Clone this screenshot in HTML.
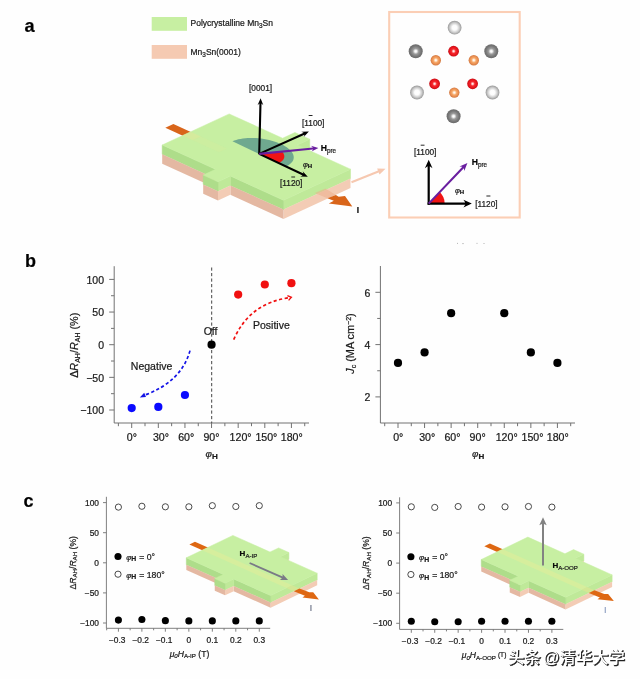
<!DOCTYPE html>
<html><head><meta charset="utf-8"><title>Figure</title>
<style>
html,body{margin:0;padding:0;background:#fefefe;}
body{width:640px;height:679px;overflow:hidden;}
svg{display:block;font-family:"Liberation Sans","Noto Sans CJK SC",sans-serif;fill:#1a1a1a;}
text{stroke:#1a1a1a;stroke-width:0.22px;}
text.ns{stroke:none;}
text.wm{stroke:#222;stroke-width:0.5px;}
</style></head><body>
<svg width="640" height="679" viewBox="0 0 640 679">
<defs>
<radialGradient id="gLg" cx="50%" cy="50%" r="50%"><stop offset="0" stop-color="#ffffff"/><stop offset="0.35" stop-color="#fcfcfc"/><stop offset="0.7" stop-color="#cdcdcd"/><stop offset="1" stop-color="#989898"/></radialGradient>
<radialGradient id="gDg" cx="50%" cy="50%" r="50%"><stop offset="0" stop-color="#ffffff"/><stop offset="0.15" stop-color="#f4f4f4"/><stop offset="0.42" stop-color="#999999"/><stop offset="0.75" stop-color="#787878"/><stop offset="1" stop-color="#6a6a6a"/></radialGradient>
<radialGradient id="gRd" cx="50%" cy="50%" r="50%"><stop offset="0" stop-color="#ffffff"/><stop offset="0.12" stop-color="#ffd8d8"/><stop offset="0.4" stop-color="#f52a2e"/><stop offset="0.75" stop-color="#e8141c"/><stop offset="1" stop-color="#c21018"/></radialGradient>
<radialGradient id="gOr" cx="50%" cy="50%" r="50%"><stop offset="0" stop-color="#ffffff"/><stop offset="0.15" stop-color="#fff0e0"/><stop offset="0.45" stop-color="#f6a868"/><stop offset="0.75" stop-color="#ea8e50"/><stop offset="1" stop-color="#d07a44"/></radialGradient>
</defs>
<rect x="0" y="0" width="640" height="679" fill="#fefefe"/>

<g id="panel-a">
<text x="24.6" y="31.5" font-size="18.2" font-weight="bold" fill="#000">a</text>
<rect x="151.7" y="17" width="35.3" height="13.8" fill="#c7efa2"/>
<rect x="151.7" y="45" width="35.3" height="13.8" fill="#f5cab2"/>
<text x="190.5" y="26.3" font-size="8.5">Polycrystalline Mn<tspan font-size="6.4" dy="2">3</tspan><tspan dy="-2">Sn</tspan></text>
<text x="190.5" y="55" font-size="8.5">Mn<tspan font-size="6.4" dy="2">3</tspan><tspan dy="-2">Sn(0001)</tspan></text>
<polygon points="165.33,127.74 173.37,124.01 200.66,136.45 192.62,140.18" fill="#d9651a"/>
<polygon points="309.77,139.23 297.37,144.98 297.37,154.28 309.77,148.53" fill="#bfe999" stroke="#bfe999" stroke-width="0.5" stroke-linejoin="round"/>
<polygon points="309.77,148.53 297.37,154.28 297.37,163.68 309.77,157.93" fill="#f3ccb5"/>
<polygon points="283.5,200.3 350.5,169.2 350.5,178.5 283.5,209.6" fill="#bfe999" stroke="#bfe999" stroke-width="0.5" stroke-linejoin="round"/>
<polygon points="283.5,209.6 350.5,178.5 350.5,187.9 283.5,219" fill="#f3ccb5"/>
<polygon points="162.2,145 215.57,169.33 215.57,178.63 162.2,154.3" fill="#aedd8a" stroke="#aedd8a" stroke-width="0.5" stroke-linejoin="round"/>
<polygon points="162.2,154.3 215.57,178.63 215.57,188.03 162.2,163.7" fill="#e4b8a2"/>
<polygon points="230.37,176.08 283.5,200.3 283.5,209.6 230.37,185.38" fill="#aedd8a" stroke="#aedd8a" stroke-width="0.5" stroke-linejoin="round"/>
<polygon points="230.37,185.38 283.5,209.6 283.5,219 230.37,194.78" fill="#e4b8a2"/>
<polygon points="217.98,181.83 230.37,176.08 230.37,185.38 217.98,191.13" fill="#bfe999" stroke="#bfe999" stroke-width="0.5" stroke-linejoin="round"/>
<polygon points="217.98,191.13 230.37,185.38 230.37,194.78 217.98,200.53" fill="#f3ccb5"/>
<polygon points="203.18,175.09 217.98,181.83 217.98,191.13 203.18,184.39" fill="#aedd8a" stroke="#aedd8a" stroke-width="0.5" stroke-linejoin="round"/>
<polygon points="203.18,184.39 217.98,191.13 217.98,200.53 203.18,193.79" fill="#e4b8a2"/>
<polygon points="162.2,145 215.57,169.33 203.18,175.09 217.98,181.83 230.37,176.08 283.5,200.3 350.5,169.2 297.37,144.98 309.77,139.23 294.97,132.48 282.57,138.23 229.2,113.9" fill="#c7efa2" stroke="#c7efa2" stroke-width="0.5" stroke-linejoin="round"/>
<polygon points="182.51,135.57 190.55,131.84 200.86,136.54 192.82,140.27" fill="#d6ea9c" opacity="0.9"/>
<polygon points="192.82,140.27 200.86,136.54 226.94,148.43 218.9,152.16" fill="#d6ea9c" opacity="0.3"/>
<polygon points="314.8,193 325.5,188.6 335.9,194.9 327.4,198.3" fill="#ecae8c" opacity="0.55"/>
<polygon points="327.4,198.3 335.9,194.9 338.7,196.8 345,195.9 352.3,206.4 328.8,203.6 333.8,200.8" fill="#d9651a"/>
<text x="356.8" y="213.2" font-size="8.4" font-weight="bold" fill="#000">I</text>
<polygon points="351.89,183.27 378.74,172.53 379.54,174.53 385.5,168.7 377.16,168.59 377.96,170.58 351.11,181.33" fill="#f6c8b0"/>
<polygon points="259.2,153.9 285.93,166.5 287.56,165.69 289.02,164.8 290.3,163.86 291.38,162.85 292.26,161.78 292.94,160.67 293.42,159.51 293.68,158.32 293.73,157.1 293.56,155.87 293.19,154.62 292.6,153.37 291.81,152.11 290.82,150.88 289.63,149.65 288.26,148.46 286.7,147.3 284.98,146.18 283.1,145.11 281.07,144.09 278.9,143.13 276.62,142.24 274.22,141.42 271.74,140.68 269.17,140.01 266.55,139.44 263.88,138.95 261.18,138.56 258.47,138.26 255.76,138.06 253.08,137.95 250.43,137.94 247.83,138.03 245.31,138.22 242.87,138.51 240.54,138.89 238.31,139.36 236.22,139.93 234.27,140.57 232.47,141.31" fill="#5f9c8c" opacity="0.85"/>
<polygon points="259.2,153.9 278.64,163.06 279.08,162.86 279.5,162.65 279.9,162.43 280.29,162.21 280.66,161.98 281.02,161.74 281.36,161.5 281.68,161.25 281.98,161 282.27,160.74 282.54,160.47 282.79,160.2 283.02,159.93 283.23,159.65 283.43,159.37 283.6,159.08 283.76,158.79 283.9,158.49 284.02,158.19 284.11,157.89 284.19,157.58 284.25,157.27 284.29,156.96 284.31,156.65 284.31,156.33 284.3,156.01 284.26,155.69 284.2,155.37 284.12,155.05 284.03,154.73 283.91,154.4 283.78,154.08 283.62,153.75 283.45,153.43 283.26,153.11 283.04,152.78 282.82,152.46 282.57,152.14 282.3,151.82 282.02,151.5" fill="#f01414"/>
<polygon points="260.25,154.43 261.52,103.47 263.32,105.27 260.6,98.2 257.53,105.13 259.42,103.42 258.15,154.37" fill="#000"/>
<polygon points="259.63,154.86 304.54,134.71 303.7,137.11 308.9,131.6 301.33,131.82 303.68,132.79 258.77,152.94" fill="#000"/>
<polygon points="258.75,154.85 302.6,175.51 300.23,176.44 307.8,176.8 302.7,171.19 303.5,173.61 259.65,152.95" fill="#000"/>
<polygon points="259.3,154.94 313.13,149.58 311.52,151.6 318.4,148 310.95,145.83 312.92,147.49 259.1,152.86" fill="#6a1fa0"/>
<text x="260.6" y="91" font-size="8.3" text-anchor="middle">[0001]</text>
<text x="313.2" y="125.7" font-size="8.3" text-anchor="middle">[1100]</text>
<line x1="308.7" y1="115.5" x2="312.5" y2="115.5" stroke="#1a1a1a" stroke-width="0.95"/>
<text x="291.2" y="185.5" font-size="8.3" text-anchor="middle">[1120]</text>
<line x1="291.3" y1="177.0" x2="295.1" y2="177.0" stroke="#1a1a1a" stroke-width="0.95"/>
<text x="320.8" y="151.2" font-size="8.6" font-weight="bold" fill="#000">H<tspan font-size="6.3" font-weight="normal" dy="1.8" fill="#222">pre</tspan></text>
<text x="303" y="167" font-size="7.4" text-anchor="start" ><tspan font-style="italic">φ</tspan><tspan font-weight="bold" font-size="6.07" dy="1.48">H</tspan></text>
<rect x="389.2" y="12" width="130.5" height="205.5" fill="none" stroke="#fbceb5" stroke-width="2.1"/>
<circle cx="454.6" cy="27.7" r="6.9" fill="url(#gLg)"/>
<circle cx="415.7" cy="51.3" r="7" fill="url(#gDg)"/>
<circle cx="491.3" cy="51.3" r="7" fill="url(#gDg)"/>
<circle cx="417" cy="92.5" r="6.9" fill="url(#gLg)"/>
<circle cx="492.5" cy="92.5" r="6.9" fill="url(#gLg)"/>
<circle cx="453.6" cy="116.3" r="7" fill="url(#gDg)"/>
<circle cx="453.6" cy="51.2" r="5.4" fill="url(#gRd)"/>
<circle cx="435.8" cy="60.2" r="5.2" fill="url(#gOr)"/>
<circle cx="473.8" cy="60.2" r="5.2" fill="url(#gOr)"/>
<circle cx="434.6" cy="83.8" r="5.4" fill="url(#gRd)"/>
<circle cx="472.6" cy="83.8" r="5.4" fill="url(#gRd)"/>
<circle cx="454.3" cy="92.6" r="5.2" fill="url(#gOr)"/>
<path d="M428.7 203.6 L444.7 203.6 A16 16 0 0 0 439.71 191.99 Z" fill="#f01414"/>
<polygon points="429.8,204.7 429.8,166.35 432.5,168.2 428.7,159.8 424.9,168.2 427.6,166.35 427.6,204.7" fill="#000"/>
<polygon points="427.6,204.7 465.25,204.7 463.4,207.4 471.8,203.6 463.4,199.8 465.25,202.5 427.6,202.5" fill="#000"/>
<polygon points="429.46,204.32 463.85,168.24 464.27,171.07 467.4,163 459.49,166.51 462.33,166.79 427.94,202.88" fill="#6a1fa0"/>
<text x="425.2" y="155.4" font-size="8.3" text-anchor="middle">[1100]</text>
<line x1="420.7" y1="145.2" x2="424.5" y2="145.2" stroke="#1a1a1a" stroke-width="0.95"/>
<text x="486.4" y="206.8" font-size="8.3" text-anchor="middle">[1120]</text>
<line x1="486.4" y1="196.0" x2="490.4" y2="196.0" stroke="#1a1a1a" stroke-width="0.95"/>
<text x="471.8" y="165.2" font-size="8.6" font-weight="bold" fill="#000">H<tspan font-size="6.3" font-weight="normal" dy="1.8" fill="#222">pre</tspan></text>
<text x="455" y="192.6" font-size="7.4" text-anchor="start" ><tspan font-style="italic">φ</tspan><tspan font-weight="bold" font-size="6.07" dy="1.48">H</tspan></text>
</g>
<g id="panel-b">
<text x="25" y="266.8" font-size="18" font-weight="bold" fill="#000">b</text>
<path d="M114.2 266.2 V423 H309" fill="none" stroke="#727272" stroke-width="1.0"/>
<path d="M114.2 279.4h-5M114.2 312.05h-5M114.2 344.7h-5M114.2 377.35h-5M114.2 410h-5M114.2 295.72h-3.2M114.2 328.38h-3.2M114.2 361.02h-3.2M114.2 393.68h-3.2M131.7 423v5M158.32 423v5M184.94 423v5M211.56 423v5M238.18 423v5M264.8 423v5M291.42 423v5M118.39 423v3.2M145.01 423v3.2M171.63 423v3.2M198.25 423v3.2M224.87 423v3.2M251.49 423v3.2M278.11 423v3.2M304.73 423v3.2" fill="none" stroke="#727272" stroke-width="1.0"/>
<text x="104" y="283.6" font-size="10.5" text-anchor="end">100</text>
<text x="104" y="316.25" font-size="10.5" text-anchor="end">50</text>
<text x="104" y="348.9" font-size="10.5" text-anchor="end">0</text>
<text x="104" y="381.55" font-size="10.5" text-anchor="end">−50</text>
<text x="104" y="414.2" font-size="10.5" text-anchor="end">−100</text>
<text x="131.9" y="441.1" font-size="10.6" text-anchor="middle">0°</text>
<text x="160.92" y="441.1" font-size="10.6" text-anchor="middle">30°</text>
<text x="186.24" y="441.1" font-size="10.6" text-anchor="middle">60°</text>
<text x="211.46" y="441.1" font-size="10.6" text-anchor="middle">90°</text>
<text x="240.58" y="441.1" font-size="10.6" text-anchor="middle">120°</text>
<text x="266.4" y="441.1" font-size="10.6" text-anchor="middle">150°</text>
<text x="291.72" y="441.1" font-size="10.6" text-anchor="middle">180°</text>
<text x="205.5" y="456.8" font-size="9.8" text-anchor="start" ><tspan font-style="italic">φ</tspan><tspan font-weight="bold" font-size="8.04" dy="1.96">H</tspan></text>
<text transform="translate(78.3,345.3) rotate(-90)" font-size="10.8" text-anchor="middle">Δ<tspan font-style="italic">R</tspan><tspan font-size="7" dy="2">AH</tspan><tspan dy="-2">/</tspan><tspan font-style="italic">R</tspan><tspan font-size="7" dy="2">AH</tspan><tspan dy="-2"> (%)</tspan></text>
<line x1="211.7" y1="267.5" x2="211.7" y2="423" stroke="#444" stroke-width="1" stroke-dasharray="3.2 2.3"/>
<circle cx="131.7" cy="408.11" r="4.1" fill="#0a0aff"/>
<circle cx="158.32" cy="406.93" r="4.1" fill="#0a0aff"/>
<circle cx="184.94" cy="394.98" r="4.1" fill="#0a0aff"/>
<circle cx="211.56" cy="344.7" r="4.1" fill="#000"/>
<circle cx="238.18" cy="294.61" r="4.1" fill="#f01010"/>
<circle cx="264.8" cy="284.49" r="4.1" fill="#f01010"/>
<circle cx="291.42" cy="283.19" r="4.1" fill="#f01010"/>
<text x="210.6" y="334.6" font-size="10.5" text-anchor="middle">Off</text>
<text x="271.4" y="328.6" font-size="10.5" text-anchor="middle">Positive</text>
<text x="151.6" y="369.6" font-size="10.5" text-anchor="middle">Negative</text>
<path d="M233.7 339.6 Q249.6 303 289.6 297.7" fill="none" stroke="#f01010" stroke-width="1.7" stroke-dasharray="3.2 2.5"/>
<path d="M287.4 295.7 L291.4 297.3 L288.6 300.4" fill="none" stroke="#f01010" stroke-width="1.3"/>
<path d="M190 350.6 Q181.6 381.4 145 395" fill="none" stroke="#1414e6" stroke-width="1.7" stroke-dasharray="3.2 2.4"/>
<polygon points="139.8,397.6 144.2,392.8 146,397" fill="#1414e6"/>
<path d="M380.4 266 V423 H575" fill="none" stroke="#727272" stroke-width="1.0"/>
<path d="M380.4 396.9h-5M380.4 344.6h-5M380.4 292.3h-5M380.4 370.75h-3.2M380.4 318.45h-3.2M398 423v5M424.57 423v5M451.14 423v5M477.71 423v5M504.28 423v5M530.85 423v5M557.42 423v5M384.71 423v3.2M411.29 423v3.2M437.86 423v3.2M464.43 423v3.2M491 423v3.2M517.57 423v3.2M544.13 423v3.2M570.7 423v3.2" fill="none" stroke="#727272" stroke-width="1.0"/>
<text x="370.4" y="401.1" font-size="10.5" text-anchor="end">2</text>
<text x="370.4" y="348.8" font-size="10.5" text-anchor="end">4</text>
<text x="370.4" y="296.5" font-size="10.5" text-anchor="end">6</text>
<text x="398.2" y="441.1" font-size="10.6" text-anchor="middle">0°</text>
<text x="427.17" y="441.1" font-size="10.6" text-anchor="middle">30°</text>
<text x="452.44" y="441.1" font-size="10.6" text-anchor="middle">60°</text>
<text x="477.61" y="441.1" font-size="10.6" text-anchor="middle">90°</text>
<text x="506.68" y="441.1" font-size="10.6" text-anchor="middle">120°</text>
<text x="532.45" y="441.1" font-size="10.6" text-anchor="middle">150°</text>
<text x="557.72" y="441.1" font-size="10.6" text-anchor="middle">180°</text>
<text x="472" y="456.8" font-size="9.8" text-anchor="start" ><tspan font-style="italic">φ</tspan><tspan font-weight="bold" font-size="8.04" dy="1.96">H</tspan></text>
<text transform="translate(354.2,343.5) rotate(-90)" font-size="10.9" text-anchor="middle"><tspan font-style="italic">J</tspan><tspan font-size="7" dy="2">c</tspan><tspan dy="-2"> (MA cm</tspan><tspan font-size="7" dy="-3.5">−2</tspan><tspan dy="3.5">)</tspan></text>
<circle cx="398" cy="362.91" r="4.1" fill="#000"/>
<circle cx="424.57" cy="352.44" r="4.1" fill="#000"/>
<circle cx="451.14" cy="313.22" r="4.1" fill="#000"/>
<circle cx="504.28" cy="313.22" r="4.1" fill="#000"/>
<circle cx="530.85" cy="352.44" r="4.1" fill="#000"/>
<circle cx="557.42" cy="362.91" r="4.1" fill="#000"/>
<g fill="#9a9a9a"><circle cx="457.5" cy="243.2" r="0.5"/><circle cx="463" cy="243.6" r="0.6"/><circle cx="477" cy="243.2" r="0.5"/><circle cx="484" cy="243.4" r="0.5"/></g>
</g>
<g id="panel-c">
<text x="23.6" y="506.7" font-size="18" font-weight="bold" fill="#000">c</text>
<path d="M106.4 496.8 V628.3 H270.2" fill="none" stroke="#727272" stroke-width="0.9"/>
<path d="M106.4 502.6h-3.4M106.4 532.7h-3.4M106.4 562.8h-3.4M106.4 592.9h-3.4M106.4 623h-3.4M118.41 628.3v3.4M141.89 628.3v3.4M165.37 628.3v3.4M188.85 628.3v3.4M212.33 628.3v3.4M235.81 628.3v3.4M259.29 628.3v3.4M106.67 628.3v2M130.15 628.3v2M153.63 628.3v2M177.11 628.3v2M200.59 628.3v2M224.07 628.3v2M247.55 628.3v2" fill="none" stroke="#727272" stroke-width="0.9"/>
<text x="99" y="505.7" font-size="8.4" text-anchor="end">100</text>
<text x="99" y="535.8" font-size="8.4" text-anchor="end">50</text>
<text x="99" y="565.9" font-size="8.4" text-anchor="end">0</text>
<text x="99" y="596" font-size="8.4" text-anchor="end">−50</text>
<text x="99" y="626.1" font-size="8.4" text-anchor="end">−100</text>
<text x="117.21" y="642.8" font-size="8.4" text-anchor="middle">−0.3</text>
<text x="140.69" y="642.8" font-size="8.4" text-anchor="middle">−0.2</text>
<text x="164.17" y="642.8" font-size="8.4" text-anchor="middle">−0.1</text>
<text x="188.85" y="642.8" font-size="8.4" text-anchor="middle">0</text>
<text x="212.33" y="642.8" font-size="8.4" text-anchor="middle">0.1</text>
<text x="235.81" y="642.8" font-size="8.4" text-anchor="middle">0.2</text>
<text x="259.29" y="642.8" font-size="8.4" text-anchor="middle">0.3</text>
<text x="189.5" y="656.6" font-size="8.6" text-anchor="middle"><tspan font-style="italic">μ</tspan><tspan font-size="6" dy="1.8" font-style="italic">0</tspan><tspan dy="-1.8" font-style="italic">H</tspan><tspan font-size="6.2" dy="1.8">A-IP</tspan><tspan dy="-1.8"> (T)</tspan></text>
<text transform="translate(75.8,562.8) rotate(-90)" font-size="8.6" text-anchor="middle">Δ<tspan font-style="italic">R</tspan><tspan font-size="6.2" dy="1.6">AH</tspan><tspan dy="-1.6">/</tspan><tspan font-style="italic">R</tspan><tspan font-size="6.2" dy="1.6">AH</tspan><tspan dy="-1.6"> (%)</tspan></text>
<circle cx="118.41" cy="507.11" r="3.1" fill="#fff" stroke="#2a2a2a" stroke-width="0.85"/>
<circle cx="118.41" cy="620.11" r="3.55" fill="#000"/>
<circle cx="141.89" cy="506.27" r="3.1" fill="#fff" stroke="#2a2a2a" stroke-width="0.85"/>
<circle cx="141.89" cy="619.51" r="3.55" fill="#000"/>
<circle cx="165.37" cy="506.81" r="3.1" fill="#fff" stroke="#2a2a2a" stroke-width="0.85"/>
<circle cx="165.37" cy="620.65" r="3.55" fill="#000"/>
<circle cx="188.85" cy="506.81" r="3.1" fill="#fff" stroke="#2a2a2a" stroke-width="0.85"/>
<circle cx="188.85" cy="620.89" r="3.55" fill="#000"/>
<circle cx="212.33" cy="505.67" r="3.1" fill="#fff" stroke="#2a2a2a" stroke-width="0.85"/>
<circle cx="212.33" cy="620.89" r="3.55" fill="#000"/>
<circle cx="235.81" cy="506.51" r="3.1" fill="#fff" stroke="#2a2a2a" stroke-width="0.85"/>
<circle cx="235.81" cy="620.89" r="3.55" fill="#000"/>
<circle cx="259.29" cy="505.67" r="3.1" fill="#fff" stroke="#2a2a2a" stroke-width="0.85"/>
<circle cx="259.29" cy="620.89" r="3.55" fill="#000"/>
<circle cx="118.01" cy="556.5" r="3.55" fill="#000"/>
<circle cx="118.01" cy="574.2" r="3.1" fill="#fff" stroke="#2a2a2a" stroke-width="0.85"/>
<text x="126.21" y="559.7" font-size="8.7"><tspan font-style="italic" font-size="7.8">φ</tspan><tspan font-weight="bold" font-size="6.9" dy="1.7">H</tspan><tspan dy="-1.7" dx="0.6"> = 0°</tspan></text>
<text x="126.21" y="577.5" font-size="8.7"><tspan font-style="italic" font-size="7.8">φ</tspan><tspan font-weight="bold" font-size="6.9" dy="1.7">H</tspan><tspan dy="-1.7" dx="0.6"> = 180°</tspan></text>
<polygon points="189.37,544.43 194.96,541.74 215.19,550.81 209.6,553.5" fill="#de6712"/>
<polygon points="288.9,552.5 280.28,556.64 280.28,563.54 288.9,559.4" fill="#bfe999" stroke="#bfe999" stroke-width="0.5" stroke-linejoin="round"/>
<polygon points="288.9,559.4 280.28,563.54 280.28,568.74 288.9,564.6" fill="#f3ccb5"/>
<polygon points="270.6,595.6 317.2,573.2 317.2,580.1 270.6,602.5" fill="#bfe999" stroke="#bfe999" stroke-width="0.5" stroke-linejoin="round"/>
<polygon points="270.6,602.5 317.2,580.1 317.2,585.3 270.6,607.7" fill="#f3ccb5"/>
<polygon points="186.3,557.8 223.39,574.43 223.39,581.33 186.3,564.7" fill="#aedd8a" stroke="#aedd8a" stroke-width="0.5" stroke-linejoin="round"/>
<polygon points="186.3,564.7 223.39,581.33 223.39,586.53 186.3,569.9" fill="#e4b8a2"/>
<polygon points="233.68,579.04 270.6,595.6 270.6,602.5 233.68,585.94" fill="#aedd8a" stroke="#aedd8a" stroke-width="0.5" stroke-linejoin="round"/>
<polygon points="233.68,585.94 270.6,602.5 270.6,607.7 233.68,591.14" fill="#e4b8a2"/>
<polygon points="225.06,583.19 233.68,579.04 233.68,585.94 225.06,590.09" fill="#bfe999" stroke="#bfe999" stroke-width="0.5" stroke-linejoin="round"/>
<polygon points="225.06,590.09 233.68,585.94 233.68,591.14 225.06,595.29" fill="#f3ccb5"/>
<polygon points="214.77,578.58 225.06,583.19 225.06,590.09 214.77,585.48" fill="#aedd8a" stroke="#aedd8a" stroke-width="0.5" stroke-linejoin="round"/>
<polygon points="214.77,585.48 225.06,590.09 225.06,595.29 214.77,590.68" fill="#e4b8a2"/>
<polygon points="186.3,557.8 223.39,574.43 214.77,578.58 225.06,583.19 233.68,579.04 270.6,595.6 317.2,573.2 280.28,556.64 288.9,552.5 278.61,547.89 269.99,552.03 232.9,535.4" fill="#c7efa2" stroke="#c7efa2" stroke-width="0.5" stroke-linejoin="round"/>
<polygon points="202.17,550.17 207.77,547.48 292.07,585.28 286.47,587.97" fill="#d6ee9d"/>
<polygon points="286.47,587.97 292.07,585.28 299.49,588.61 293.9,591.3" fill="#d3e795"/>
<polygon points="293.9,591.3 299.49,588.61 309.3,592.2 313.2,592.3 318.9,599.4 302.5,597.6 304.9,595.8" fill="#de6712"/>
<polygon points="249.24,563.82 281.9,578.25 279.91,579.99 288.1,580 282.57,573.95 282.63,576.6 249.96,562.18" fill="#7a7a86"/>
<text x="239.6" y="556" font-size="8" font-weight="bold" fill="#000">H<tspan font-size="6.1" font-weight="normal" dy="2" fill="#222">A-IP</tspan></text>
<text x="309.8" y="611.3" font-size="8.7" fill="#3c4660" class="ns">I</text>
<path d="M399.6 497.3 V629.4 H563.3" fill="none" stroke="#727272" stroke-width="0.9"/>
<path d="M399.6 502.9h-3.4M399.6 533h-3.4M399.6 563.1h-3.4M399.6 593.2h-3.4M399.6 623.3h-3.4M411.31 629.4v3.4M434.74 629.4v3.4M458.17 629.4v3.4M481.6 629.4v3.4M505.03 629.4v3.4M528.46 629.4v3.4M551.89 629.4v3.4M423.03 629.4v2M446.46 629.4v2M469.89 629.4v2M493.31 629.4v2M516.75 629.4v2M540.18 629.4v2" fill="none" stroke="#727272" stroke-width="0.9"/>
<text x="392.2" y="506" font-size="8.4" text-anchor="end">100</text>
<text x="392.2" y="536.1" font-size="8.4" text-anchor="end">50</text>
<text x="392.2" y="566.2" font-size="8.4" text-anchor="end">0</text>
<text x="392.2" y="596.3" font-size="8.4" text-anchor="end">−50</text>
<text x="392.2" y="626.4" font-size="8.4" text-anchor="end">−100</text>
<text x="410.11" y="643.9" font-size="8.4" text-anchor="middle">−0.3</text>
<text x="433.54" y="643.9" font-size="8.4" text-anchor="middle">−0.2</text>
<text x="456.97" y="643.9" font-size="8.4" text-anchor="middle">−0.1</text>
<text x="481.6" y="643.9" font-size="8.4" text-anchor="middle">0</text>
<text x="505.03" y="643.9" font-size="8.4" text-anchor="middle">0.1</text>
<text x="528.46" y="643.9" font-size="8.4" text-anchor="middle">0.2</text>
<text x="551.89" y="643.9" font-size="8.4" text-anchor="middle">0.3</text>
<text x="484" y="657.7" font-size="8.6" text-anchor="middle"><tspan font-style="italic">μ</tspan><tspan font-size="6" dy="1.8" font-style="italic">0</tspan><tspan dy="-1.8" font-style="italic">H</tspan><tspan font-size="6.2" dy="1.8">A-OOP</tspan><tspan dy="-2.6" font-size="6.6" dx="2">(T)</tspan></text>
<text transform="translate(369,563.1) rotate(-90)" font-size="8.6" text-anchor="middle">Δ<tspan font-style="italic">R</tspan><tspan font-size="6.2" dy="1.6">AH</tspan><tspan dy="-1.6">/</tspan><tspan font-style="italic">R</tspan><tspan font-size="6.2" dy="1.6">AH</tspan><tspan dy="-1.6"> (%)</tspan></text>
<circle cx="411.31" cy="506.81" r="3.1" fill="#fff" stroke="#2a2a2a" stroke-width="0.85"/>
<circle cx="411.31" cy="621.19" r="3.55" fill="#000"/>
<circle cx="434.74" cy="507.42" r="3.1" fill="#fff" stroke="#2a2a2a" stroke-width="0.85"/>
<circle cx="434.74" cy="621.8" r="3.55" fill="#000"/>
<circle cx="458.17" cy="506.51" r="3.1" fill="#fff" stroke="#2a2a2a" stroke-width="0.85"/>
<circle cx="458.17" cy="621.8" r="3.55" fill="#000"/>
<circle cx="481.6" cy="507.11" r="3.1" fill="#fff" stroke="#2a2a2a" stroke-width="0.85"/>
<circle cx="481.6" cy="621.19" r="3.55" fill="#000"/>
<circle cx="505.03" cy="506.81" r="3.1" fill="#fff" stroke="#2a2a2a" stroke-width="0.85"/>
<circle cx="505.03" cy="621.19" r="3.55" fill="#000"/>
<circle cx="528.46" cy="506.51" r="3.1" fill="#fff" stroke="#2a2a2a" stroke-width="0.85"/>
<circle cx="528.46" cy="621.19" r="3.55" fill="#000"/>
<circle cx="551.89" cy="507.11" r="3.1" fill="#fff" stroke="#2a2a2a" stroke-width="0.85"/>
<circle cx="551.89" cy="621.19" r="3.55" fill="#000"/>
<circle cx="410.91" cy="556.8" r="3.55" fill="#000"/>
<circle cx="410.91" cy="574.5" r="3.1" fill="#fff" stroke="#2a2a2a" stroke-width="0.85"/>
<text x="419.11" y="560" font-size="8.7"><tspan font-style="italic" font-size="7.8">φ</tspan><tspan font-weight="bold" font-size="6.9" dy="1.7">H</tspan><tspan dy="-1.7" dx="0.6"> = 0°</tspan></text>
<text x="419.11" y="577.8" font-size="8.7"><tspan font-style="italic" font-size="7.8">φ</tspan><tspan font-weight="bold" font-size="6.9" dy="1.7">H</tspan><tspan dy="-1.7" dx="0.6"> = 180°</tspan></text>
<polygon points="484.32,546.13 489.91,543.44 510.14,552.51 504.55,555.2" fill="#de6712"/>
<polygon points="583.85,554.2 575.23,558.34 575.23,565.24 583.85,561.1" fill="#bfe999" stroke="#bfe999" stroke-width="0.5" stroke-linejoin="round"/>
<polygon points="583.85,561.1 575.23,565.24 575.23,570.44 583.85,566.3" fill="#f3ccb5"/>
<polygon points="565.55,597.3 612.15,574.9 612.15,581.8 565.55,604.2" fill="#bfe999" stroke="#bfe999" stroke-width="0.5" stroke-linejoin="round"/>
<polygon points="565.55,604.2 612.15,581.8 612.15,587 565.55,609.4" fill="#f3ccb5"/>
<polygon points="481.25,559.5 518.34,576.13 518.34,583.03 481.25,566.4" fill="#aedd8a" stroke="#aedd8a" stroke-width="0.5" stroke-linejoin="round"/>
<polygon points="481.25,566.4 518.34,583.03 518.34,588.23 481.25,571.6" fill="#e4b8a2"/>
<polygon points="528.63,580.74 565.55,597.3 565.55,604.2 528.63,587.64" fill="#aedd8a" stroke="#aedd8a" stroke-width="0.5" stroke-linejoin="round"/>
<polygon points="528.63,587.64 565.55,604.2 565.55,609.4 528.63,592.84" fill="#e4b8a2"/>
<polygon points="520.01,584.89 528.63,580.74 528.63,587.64 520.01,591.79" fill="#bfe999" stroke="#bfe999" stroke-width="0.5" stroke-linejoin="round"/>
<polygon points="520.01,591.79 528.63,587.64 528.63,592.84 520.01,596.99" fill="#f3ccb5"/>
<polygon points="509.72,580.28 520.01,584.89 520.01,591.79 509.72,587.18" fill="#aedd8a" stroke="#aedd8a" stroke-width="0.5" stroke-linejoin="round"/>
<polygon points="509.72,587.18 520.01,591.79 520.01,596.99 509.72,592.38" fill="#e4b8a2"/>
<polygon points="481.25,559.5 518.34,576.13 509.72,580.28 520.01,584.89 528.63,580.74 565.55,597.3 612.15,574.9 575.23,558.34 583.85,554.2 573.56,549.59 564.94,553.73 527.85,537.1" fill="#c7efa2" stroke="#c7efa2" stroke-width="0.5" stroke-linejoin="round"/>
<polygon points="497.12,551.87 502.72,549.18 587.02,586.98 581.42,589.67" fill="#d6ee9d"/>
<polygon points="581.42,589.67 587.02,586.98 594.44,590.31 588.85,593" fill="#d3e795"/>
<polygon points="588.85,593 594.44,590.31 604.25,593.9 608.15,594 613.85,601.1 597.45,599.3 599.85,597.5" fill="#de6712"/>
<polygon points="544,565.6 544,524.1 546.7,525.3 543,517.3 539.3,525.3 542,524.1 542,565.6" fill="#828282"/>
<text x="552.4" y="568" font-size="8" font-weight="bold" fill="#000">H<tspan font-size="6.1" font-weight="normal" dy="2" fill="#222">A-OOP</tspan></text>
<text x="604" y="612.6" font-size="8.7" fill="#6a80ae" class="ns">I</text>
</g>
<g font-size="16.3" word-spacing="-2" font-weight="500" style="font-family:'Liberation Sans','Noto Sans CJK SC',sans-serif">
<text class="wm" x="509" y="663.8" fill="#222222">头条 @清华大学</text>
<text class="ns" x="508" y="662.9" fill="#ffffff">头条 @清华大学</text>
</g>
</svg></body></html>
